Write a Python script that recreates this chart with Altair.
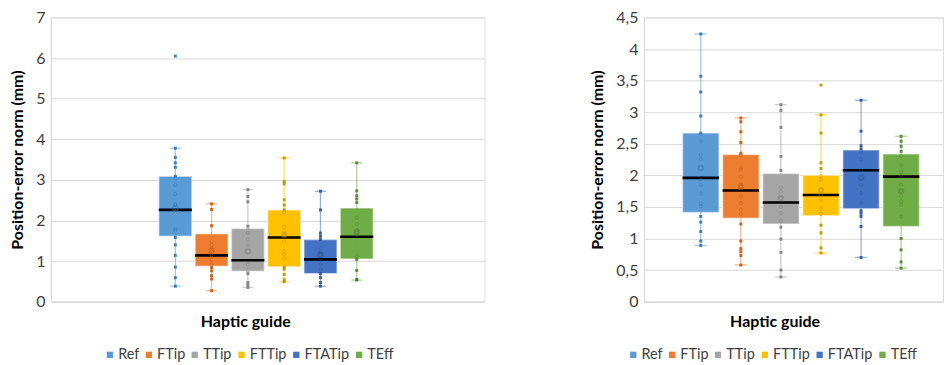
import altair as alt
import pandas as pd

cats = ["Ref", "FTip", "TTip", "FTTip", "FTATip", "TEff"]
colors = ["#5B9BD5", "#ED7D31", "#A5A5A5", "#FFC000", "#4472C4", "#70AD47"]
dark = ["#2E75B6", "#C55A11", "#7F7F7F", "#BF9000", "#2F5597", "#548235"]

# ---- left panel (mm) ----
L_low = [0.38, 0.27, 0.35, 0.49, 0.38, 0.53]
L_q1 = [1.61, 0.87, 0.75, 0.86, 0.69, 1.05]
L_med = [2.26, 1.14, 1.02, 1.58, 1.04, 1.60]
L_q3 = [3.09, 1.67, 1.80, 2.26, 1.53, 2.31]
L_high = [3.78, 2.41, 2.76, 3.54, 2.72, 3.42]
L_mean = [2.30, 1.25, 1.24, 1.65, 1.15, 1.72]
L_points = [
    [3.78, 3.55, 3.42, 3.31, 3.09, 3.03, 2.88, 2.65, 2.41, 2.38, 1.80, 1.75, 1.58, 1.40, 1.14, 0.85, 0.59, 0.38],
    [2.41, 2.27, 1.87, 1.49, 1.40, 1.31, 1.24, 1.14, 1.04, 0.93, 0.84, 0.76, 0.64, 0.56, 0.27],
    [2.76, 2.59, 2.46, 1.86, 1.77, 1.69, 1.53, 1.39, 0.92, 0.76, 0.69, 0.47, 0.41, 0.35],
    [3.54, 2.96, 2.90, 2.51, 2.38, 2.26, 2.20, 1.85, 1.69, 1.63, 1.49, 1.24, 1.16, 1.06, 0.85, 0.80, 0.67, 0.54, 0.49],
    [2.72, 2.26, 1.69, 1.61, 1.53, 1.32, 1.22, 1.16, 1.06, 0.92, 0.80, 0.69, 0.59, 0.47, 0.38],
    [3.42, 2.73, 2.61, 2.53, 2.44, 2.07, 1.91, 1.77, 1.71, 1.65, 1.12, 1.04, 0.77, 0.55, 0.53],
]
L_outliers = [[6.05], [], [], [], [], []]

# ---- right panel (mm) ----
R_low = [0.89, 0.58, 0.39, 0.77, 0.70, 0.53]
R_q1 = [1.41, 1.32, 1.23, 1.36, 1.47, 1.19]
R_med = [1.96, 1.76, 1.57, 1.69, 2.08, 1.98]
R_q3 = [2.67, 2.33, 2.03, 2.00, 2.40, 2.34]
R_high = [4.24, 2.91, 3.12, 2.96, 3.19, 2.62]
R_mean = [2.12, 1.82, 1.64, 1.76, 1.96, 1.75]
R_points = [
    [4.24, 3.57, 3.32, 2.94, 2.67, 2.54, 2.33, 2.26, 1.93, 1.85, 1.71, 1.55, 1.51, 1.35, 1.26, 1.11, 0.96, 0.89],
    [2.91, 2.85, 2.69, 2.52, 2.35, 2.32, 2.12, 2.09, 1.98, 1.86, 1.82, 1.67, 1.56, 1.46, 1.39, 1.23, 0.96, 0.84, 0.79, 0.73, 0.58],
    [3.12, 3.03, 2.76, 2.30, 2.08, 1.81, 1.74, 1.64, 1.50, 1.40, 1.28, 1.18, 0.99, 0.78, 0.50, 0.39],
    [2.96, 2.67, 2.20, 2.11, 1.99, 1.93, 1.77, 1.69, 1.61, 1.48, 1.39, 1.21, 1.09, 0.85, 0.77],
    [3.19, 2.70, 2.47, 2.42, 2.37, 2.25, 2.08, 1.95, 1.85, 1.72, 1.57, 1.44, 1.40, 1.35, 1.19, 0.70],
    [2.62, 2.54, 2.46, 2.38, 2.31, 2.16, 2.06, 2.00, 1.85, 1.75, 1.67, 1.59, 1.54, 1.35, 1.00, 0.82, 0.63, 0.53],
]
R_outliers = [[], [], [], [3.43], [], []]

FONT = "Lato"
GRID = "#D9D9D9"


def panel(low, q1, med, q3, high, mean, points, outliers, ymax, ystep,
          width, xmin, xmax, title_x, legend_x, comma):
    box = pd.DataFrame({"cat": cats, "pos": list(range(len(cats))), "low": low,
                        "q1": q1, "med": med, "q3": q3, "high": high, "mean": mean})
    rows = []
    for i, c in enumerate(cats):
        for v in points[i]:
            rows.append({"cat": c, "pos": i, "val": v,
                         "kind": "in" if q1[i] < v < q3[i] else "out"})
        for v in outliers[i]:
            rows.append({"cat": c, "pos": i, "val": v, "kind": "out"})
    pts = pd.DataFrame(rows)

    xs = alt.Scale(domain=[xmin, xmax], nice=False, zero=False)
    ys = alt.Scale(domain=[0, ymax], nice=False)
    cscale = alt.Scale(domain=cats, range=colors)
    dscale = alt.Scale(domain=cats, range=dark)
    ticks = [round(k * ystep, 3) for k in range(int(round(ymax / ystep)) + 1)]
    label_expr = "replace(toString(datum.value), '.', ',')" if comma else "toString(datum.value)"

    xaxis = alt.Axis(
        labels=False, ticks=False, grid=False, domain=True, domainColor=GRID,
        title="Haptic guide", titleX=title_x, titlePadding=12,
        titleFontSize=16, titleFontWeight="bold", titleColor="#000000", titleFont=FONT)
    yaxis = alt.Axis(
        values=ticks, labelExpr=label_expr, ticks=False, domain=True, domainColor=GRID,
        grid=True, gridColor=GRID, labelFontSize=16, labelColor="#404040",
        labelFont=FONT, labelPadding=6, labelOverlap=False,
        title="Position-error norm (mm)",
        titleFontSize=16, titleFontWeight="bold", titleColor="#000000",
        titleFont=FONT, titlePadding=10)

    def X(f):
        return alt.X(f, scale=xs, axis=xaxis)

    def Y(f):
        return alt.Y(f, scale=ys, axis=yaxis)

    b = alt.Chart(box).transform_calculate(
        bl="datum.pos - 0.455", br="datum.pos + 0.455",
        cl="datum.pos - 0.15", cr="datum.pos + 0.15")

    rect = b.mark_rect(stroke="white", strokeOpacity=0.45, strokeWidth=1.5).encode(
        x=X("bl:Q"), x2="br:Q", y=Y("q1:Q"), y2="q3:Q",
        color=alt.Color("cat:N", scale=cscale, legend=alt.Legend(
            title=None, orient="none", direction="horizontal", columns=6,
            legendX=legend_x, legendY=331, symbolType="square", symbolSize=40,
            symbolStrokeWidth=0, labelFontSize=14.5, labelFont=FONT,
            labelColor="#404040", labelOffset=1, columnPadding=2)))
    whisk = b.mark_rule(strokeWidth=1.3, opacity=0.55).encode(
        x=X("pos:Q"), y=Y("low:Q"), y2="high:Q",
        color=alt.Color("cat:N", legend=None))
    cap_lo = b.mark_rule(strokeWidth=1.3, opacity=0.55).encode(
        x=X("cl:Q"), x2="cr:Q", y=Y("low:Q"),
        color=alt.Color("cat:N", legend=None))
    cap_hi = b.mark_rule(strokeWidth=1.3, opacity=0.55).encode(
        x=X("cl:Q"), x2="cr:Q", y=Y("high:Q"),
        color=alt.Color("cat:N", legend=None))
    median = b.mark_rule(color="black", strokeWidth=2.6).encode(
        x=X("bl:Q"), x2="br:Q", y=Y("med:Q"))
    means = b.mark_point(shape="cross", angle=45, filled=False, size=30,
                         strokeWidth=1, opacity=0.6).encode(
        x=X("pos:Q"), y=Y("mean:Q"),
        stroke=alt.Stroke("cat:N", scale=dscale, legend=None))
    p = alt.Chart(pts)
    p_in = p.transform_filter("datum.kind == 'in'").mark_point(
        shape="circle", filled=False, size=10, strokeWidth=0.8, opacity=0.55).encode(
        x=X("pos:Q"), y=Y("val:Q"),
        stroke=alt.Stroke("cat:N", scale=dscale, legend=None))
    p_out = p.transform_filter("datum.kind == 'out'").mark_point(
        shape="square", filled=True, size=9, opacity=0.9).encode(
        x=X("pos:Q"), y=Y("val:Q"),
        fill=alt.Fill("cat:N", scale=dscale, legend=None))

    return alt.layer(rect, whisk, cap_lo, cap_hi, median, means, p_in, p_out).properties(
        width=width, height=285)


left = panel(L_low, L_q1, L_med, L_q3, L_high, L_mean, L_points, L_outliers,
             7, 1, 435, -3.43, 8.52, 195, 52, False)
right = panel(R_low, R_q1, R_med, R_q3, R_high, R_mean, R_points, R_outliers,
              4.5, 0.5, 300, -1.418, 6.045, 131, -18, True)

chart = alt.hconcat(left, right, spacing=104).resolve_legend(
    color="independent").resolve_scale(color="independent", fill="independent",
                                       stroke="independent").properties(
    padding={"left": 1, "top": 0, "right": 0, "bottom": 0}
).configure_view(stroke=None).configure(font=FONT)

chart.save("out.html", embed_options={"renderer": "svg", "actions": False})
